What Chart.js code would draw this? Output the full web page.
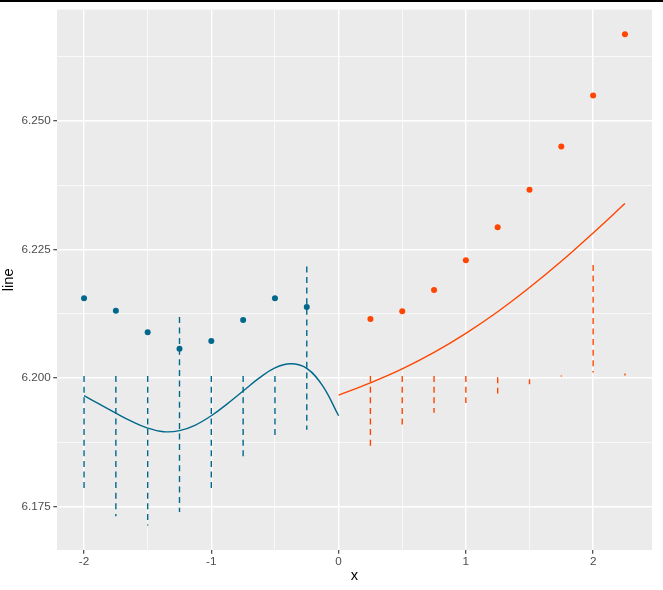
<!DOCTYPE html>
<html><head><meta charset="utf-8">
<script src="https://cdn.jsdelivr.net/npm/chart.js@4/dist/chart.umd.min.js"></script>
<style>
html,body{margin:0;padding:0;background:#fff;}
#wrap{position:relative;width:663px;height:590px;}
#topline{position:absolute;left:0;top:0;width:663px;height:2px;background:#000;}
canvas{display:block;}
</style></head><body>
<div id="wrap"><canvas id="c" width="663" height="590"></canvas><div id="topline"></div></div>
<script>
// ---- data ----
const blueX = [-2, -1.75, -1.5, -1.25, -1, -0.75, -0.5, -0.25];
const bluePoints = [6.2155, 6.2131, 6.2089, 6.2057, 6.2072, 6.2113, 6.2155, 6.2138];
const blueSegTop = [6.2004, 6.2004, 6.2004, 6.2119, 6.2004, 6.2004, 6.2004, 6.2217];
const blueSegBottom = [6.1779, 6.1732, 6.1714, 6.1740, 6.1782, 6.1839, 6.1885, 6.1900];

const orangeX = [0.25, 0.5, 0.75, 1, 1.25, 1.5, 1.75, 2, 2.25];
const orangePoints = [6.2115, 6.2130, 6.2171, 6.2229, 6.2293, 6.2366, 6.2450, 6.2549, 6.2668];
const orangeSegTop = [6.2004, 6.2004, 6.2004, 6.2004, 6.2002, 6.1998, 6.2005, 6.2220, 6.2009];
const orangeSegBottom = [6.1866, 6.1910, 6.1933, 6.1952, 6.1970, 6.1988, 6.2003, 6.2011, 6.2005];

const blueCurveX = [-2, -1.875, -1.75, -1.625, -1.5, -1.375, -1.25, -1.125, -1, -0.875, -0.75, -0.625, -0.5, -0.375, -0.25, -0.125, 0];
const blueCurveY = [6.1966, 6.1949, 6.1932, 6.1916, 6.1903, 6.1896, 6.1898, 6.1909, 6.1927, 6.1950, 6.1975, 6.2000, 6.2020, 6.2028, 6.2019, 6.1985, 6.1927];

const orangeCurveX = [0, 0.25, 0.5, 0.75, 1, 1.25, 1.5, 1.75, 2, 2.25];
const orangeCurveY = [6.1967, 6.1991, 6.2018, 6.2050, 6.2087, 6.2129, 6.2176, 6.2227, 6.2282, 6.2339];

const xTickLabels = ['-2', '-1', '0', '1', '2'];
const yTickLabels = ['6.175', '6.200', '6.225', '6.250'];

// ---- styles ----
const BLUE = '#00688B';
const ORANGE = '#FF4500';

function pts(xs, ys) { return xs.map((x, i) => ({x: x, y: ys[i]})); }
function segs(xs, a, b) {
  const out = [];
  xs.forEach((x, i) => { out.push({x: x, y: a[i]}, {x: x, y: b[i]}, {x: x, y: null}); });
  return out;
}
function isMajorX(v) { return xTickLabels.includes(String(Math.round(v * 1000) / 1000)); }
function isMajorY(v) { return Math.abs(v * 40 - Math.round(v * 40)) < 1e-6 && yTickLabels.includes(v.toFixed(3)); }

const bg = {
  id: 'bg',
  beforeDraw(chart) {
    const {ctx, chartArea: a} = chart;
    ctx.save();
    ctx.fillStyle = '#EBEBEB';
    ctx.fillRect(a.left, a.top, a.right - a.left, a.bottom - a.top);
    ctx.restore();
  }
};

const tickFont = {family: '"Liberation Sans", Arial, sans-serif', size: 11.7};
const titleFont = {family: '"Liberation Sans", Arial, sans-serif', size: 14.7};

new Chart(document.getElementById('c'), {
  type: 'scatter',
  data: {
    datasets: [
      {data: pts(blueX, bluePoints), backgroundColor: BLUE, borderColor: BLUE, pointRadius: 3, borderWidth: 0, showLine: false},
      {data: pts(orangeX, orangePoints), backgroundColor: ORANGE, borderColor: ORANGE, pointRadius: 3, borderWidth: 0, showLine: false},
      {data: pts(blueCurveX, blueCurveY), borderColor: BLUE, borderWidth: 1.4, pointRadius: 0, showLine: true, tension: 0.4},
      {data: pts(orangeCurveX, orangeCurveY), borderColor: ORANGE, borderWidth: 1.4, pointRadius: 0, showLine: true, cubicInterpolationMode: 'monotone'},
      {data: segs(blueX, blueSegTop, blueSegBottom), borderColor: BLUE, borderWidth: 1.4, borderDash: [6, 4.6], pointRadius: 0, showLine: true, spanGaps: false},
      {data: segs(orangeX, orangeSegTop, orangeSegBottom), borderColor: ORANGE, borderWidth: 1.4, borderDash: [6, 4.6], pointRadius: 0, showLine: true, spanGaps: false}
    ]
  },
  options: {
    responsive: false,
    animation: false,
    devicePixelRatio: 1,
    layout: {padding: {left: 0, right: 11, top: 7, bottom: 0}},
    plugins: {legend: {display: false}, tooltip: {enabled: false}},
    scales: {
      x: {
        type: 'linear', min: -2.2125, max: 2.4625,
        afterFit(s) { s.height = 40; },
        border: {display: false},
        grid: {
          color: '#FFFFFF',
          lineWidth: c => (c.tick && isMajorX(c.tick.value)) ? 1.42 : 0.71,
          tickLength: 3.7,
          tickWidth: 1.1,
          tickColor: c => (c.tick && isMajorX(c.tick.value)) ? '#333333' : 'rgba(0,0,0,0)'
        },
        ticks: {
          stepSize: 0.5, includeBounds: false, autoSkip: false, maxRotation: 0,
          color: '#4D4D4D', font: tickFont, padding: 1,
          callback: v => isMajorX(v) ? String(Math.round(v)) : ''
        },
        title: {display: true, text: 'x', color: '#000000', font: titleFont, padding: {top: 0, bottom: 5.5}}
      },
      y: {
        type: 'linear', min: 6.16663, max: 6.27157,
        afterFit(s) { s.width = 57; },
        border: {display: false},
        grid: {
          color: '#FFFFFF',
          lineWidth: c => (c.tick && isMajorY(c.tick.value)) ? 1.42 : 0.71,
          tickLength: 3.7,
          tickWidth: 1.1,
          tickColor: c => (c.tick && isMajorY(c.tick.value)) ? '#333333' : 'rgba(0,0,0,0)'
        },
        ticks: {
          stepSize: 0.0125, includeBounds: false, autoSkip: false,
          color: '#4D4D4D', font: tickFont, padding: 2.6,
          callback: v => isMajorY(v) ? v.toFixed(3) : ''
        },
        title: {display: true, text: 'line', color: '#000000', font: titleFont, padding: {top: 0, bottom: 0}}
      }
    }
  },
  plugins: [bg]
});
</script>
</body></html>
